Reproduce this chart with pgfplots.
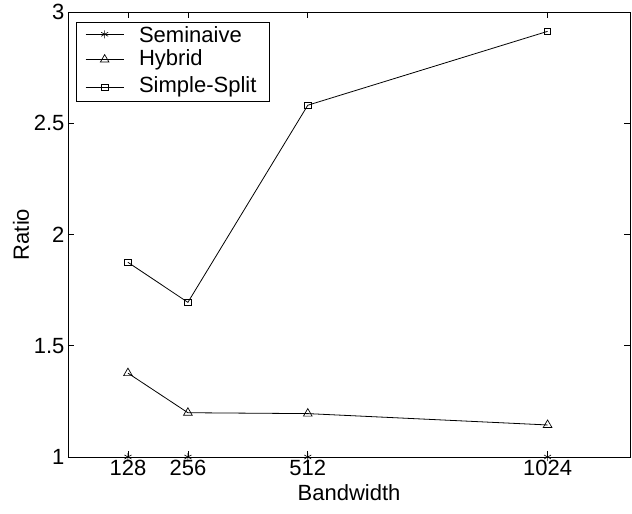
\documentclass[border=0pt]{standalone}
\usepackage{fontspec}
\setmainfont{Liberation Sans}
\usepackage{pgfplots}
\pgfplotsset{compat=1.18}
\begin{document}
\begin{tikzpicture}
\begin{axis}[
  scale only axis,
  width=562pt, height=445pt,
  xmin=0, xmax=1200, ymin=1, ymax=3,
  xtick={128,256,512,1024},
  ytick={1,1.5,2,2.5,3},
  minor tick num=0,
  tick align=inside,
  major tick length=6pt,
  /pgf/number format/assume math mode=true,
  /pgf/number format/1000 sep={},
  tick label style={font=\fontsize{22}{25}\selectfont},
  label style={font=\fontsize{22}{25}\selectfont},
  xlabel={Bandwidth},
  ylabel={Ratio},
  xlabel style={yshift=-2pt},
  ylabel style={yshift=-2pt},
  axis line style={line width=0.9pt},
  every tick/.style={line width=0.7pt, black},
  legend cell align=left,
  legend style={at={(axis description cs:0.014,0.978)}, anchor=north west,
    font=\fontsize{22}{25}\selectfont, draw=black, line width=0.8pt,
    inner xsep=9pt, inner ysep=2pt, row sep=3pt, column sep=11pt,
    nodes={text depth=, inner xsep=4pt}},
  legend image code/.code={\draw[mark repeat=2,mark phase=2] plot coordinates {(0pt,0pt)(19pt,0pt)(38pt,0pt)};},
  every axis plot/.append style={line width=0.8pt, black},
]
\addplot[mark=asterisk, mark size=4pt, mark options={line width=0.6pt}] coordinates {(128,1) (256,1) (512,1) (1024,1)};
\addlegendentry{Seminaive}
\addplot[mark=triangle, mark size=5pt, mark options={line width=0.7pt}] coordinates {(128,1.377) (256,1.199) (512,1.195) (1024,1.144)};
\addlegendentry{Hybrid}
\addplot[mark=square, mark size=3.2pt, mark options={line width=0.7pt}] coordinates {(128,1.875) (256,1.695) (512,2.581) (1024,2.913)};
\addlegendentry{Simple-Split}
\coordinate (bl) at (rel axis cs:0,0);
\end{axis}
\pgfresetboundingbox
\path (bl) ++(-68pt,-57pt) rectangle ++(632pt,514pt);
\end{tikzpicture}
\end{document}
